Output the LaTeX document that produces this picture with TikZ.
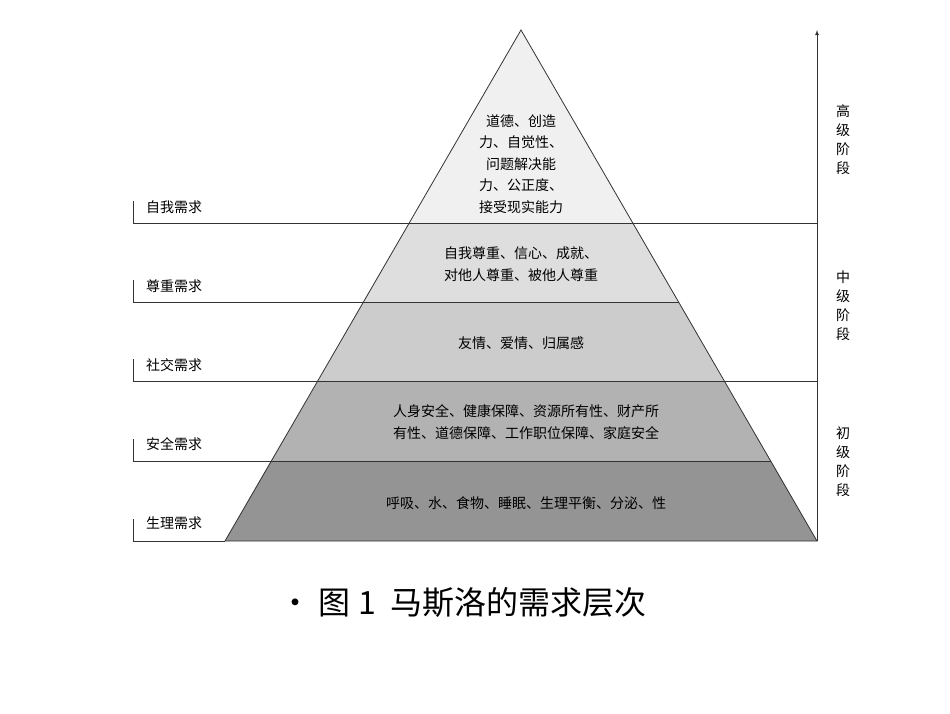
\documentclass[tikz,border=0pt]{standalone}
\usepackage{fontspec}
\setmainfont{Noto Sans CJK SC}
\begin{document}
\begin{tikzpicture}[x=1pt,y=-1pt,
  lab/.style={font=\fontsize{14}{17}\selectfont,align=center,inner sep=0},
  side/.style={font=\fontsize{14}{19}\selectfont,align=center,inner sep=0},
  ln/.style={draw=black!80,line width=0.8pt}]
\useasboundingbox (0,0) rectangle (950,713);
\fill[white] (0,0) rectangle (950,713);
% layers
\fill[black!6] (521,30) -- (409,223) -- (633,223) -- cycle;
\fill[black!13] (409,223) -- (363,302) -- (679,302) -- (633,223) -- cycle;
\fill[black!20] (363,302) -- (318,381) -- (724,381) -- (679,302) -- cycle;
\fill[black!30] (318,381) -- (271,461) -- (771,461) -- (724,381) -- cycle;
\fill[black!42] (271,461) -- (225,541) -- (817,541) -- (771,461) -- cycle;
\draw[ln] (521,30) -- (225,541) -- (817,541) -- cycle;
\draw[ln] (133,223) -- (817,223);
\draw[ln] (133,302) -- (679,302);
\draw[ln] (133,381) -- (817,381);
\draw[ln] (133,461) -- (771,461);
\draw[ln] (133,541) -- (225,541);
\foreach \y in {223,302,381,461,541} \draw[ln] (133,\y-22) -- (133,\y);
\coordinate (b) at (817,541); \coordinate (t) at (817,30);
\draw[ln,-latex] (b) -- (t);
\node[lab,anchor=west] (l1) at (146,207) {自我需求};
\node[lab,anchor=west] (l2) at (146,286) {尊重需求};
\node[lab,anchor=west] (l3) at (146,365) {社交需求};
\node[lab,anchor=west] (l4) at (146,444) {安全需求};
\node[lab,anchor=west] (l5) at (146,523) {生理需求};
\node[lab,font=\fontsize{14}{21.5}\selectfont] (t1) at (521,164) {道德、创造\\力、自觉性、\\问题解决能\\力、公正度、\\接受现实能力};
\node[lab,font=\fontsize{14}{22}\selectfont] (t2) at (521,264) {自我尊重、信心、成就、\\对他人尊重、被他人尊重};
\node[lab] (t3) at (521,343) {友情、爱情、归属感};
\node[lab,font=\fontsize{14}{22}\selectfont] (t4) at (526,422) {人身安全、健康保障、资源所有性、财产所\\有性、道德保障、工作职位保障、家庭安全};
\node[lab] (t5) at (526,503) {呼吸、水、食物、睡眠、生理平衡、分泌、性};
\node[side] (s1) at (843,140) {高\\级\\阶\\段};
\node[side] (s2) at (843,306) {中\\级\\阶\\段};
\node[side] (s3) at (843,462) {初\\级\\阶\\段};
\node[inner sep=0,font=\fontsize{32}{36}\selectfont] (cap) at (463,603) {•\ 图 1\ \ 马斯洛的需求层次};
\end{tikzpicture}
\end{document}
